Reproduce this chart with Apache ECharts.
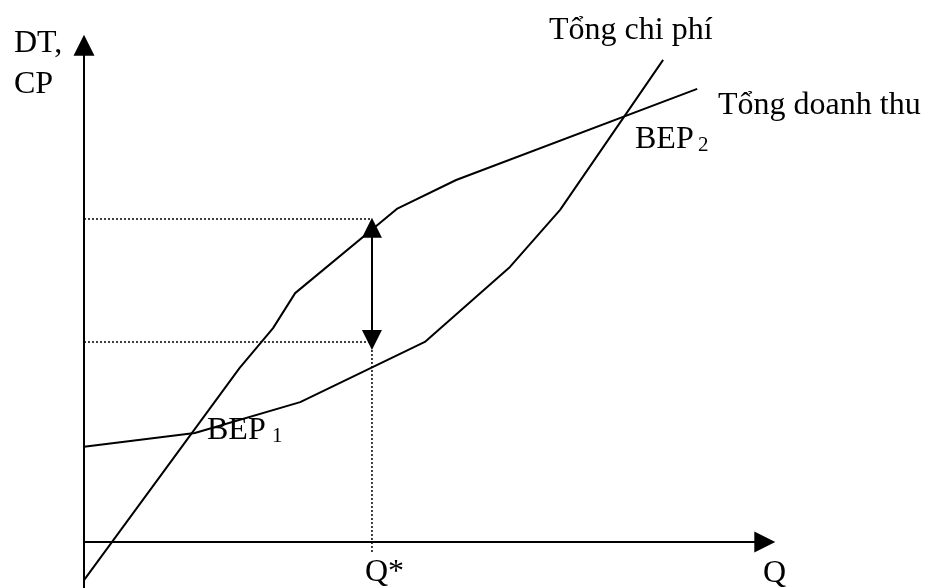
<!DOCTYPE html>
<html lang="vi">
<head>
  <meta charset="UTF-8">
  <title>Điểm hòa vốn</title>
  <script src="https://cdn.jsdelivr.net/npm/echarts@6/dist/echarts.min.js"></script>
  <style>
    html, body { margin: 0; padding: 0; background: #fff; }
    #container { width: 928px; height: 588px; }
  </style>
</head>
<body>
  <div id="container"></div>
  <script>
    // đường tổng doanh thu (Q, giá trị)
    const revenueQ = [0, 33.8, 41.1, 45.9, 68.0, 80.9, 133.3];
    const revenueV = [-8.3, 37.8, 46.5, 54.1, 72.4, 78.7, 98.5];
    // đường tổng chi phí
    const costQ = [0, 24.1, 47.0, 74.1, 92.6, 103.5, 125.9];
    const costV = [20.7, 23.7, 30.4, 43.5, 59.8, 72.2, 104.8];
    // Q* và các mức gióng
    const qStar = 62.6;
    const guideLevels = [70.2, 43.5];
    const gapArrow = [68.3, 43.9];
    const qMax = 148, vMin = -10, vMax = 108;

    const zip = (a, b) => a.map((v, i) => [v, b[i]]);
    const font = '"Liberation Serif", "Times New Roman", serif';
    const txt = (text, left, top, size) => ({
      type: 'text', left, top, silent: true,
      style: { text, fill: '#000', font: `${size || 32}px ${font}` }
    });

    const chart = echarts.init(document.getElementById('container'));
    const axisCommon = {
      type: 'value',
      axisLine: {
        show: true, onZero: true,
        symbol: ['none', 'triangle'], symbolSize: [21, 21],
        lineStyle: { color: '#000', width: 2 }
      },
      axisTick: { show: false },
      axisLabel: { show: false },
      splitLine: { show: false }
    };

    chart.setOption({
      animation: false,
      backgroundColor: '#fff',
      grid: { left: 84, top: 45.2, width: 680.8, height: 542.8 },
      xAxis: Object.assign({ min: 0, max: qMax }, axisCommon),
      yAxis: Object.assign({ min: vMin, max: vMax }, axisCommon),
      series: [
        {
          name: 'Tổng doanh thu', type: 'line', symbol: 'none',
          data: zip(revenueQ, revenueV),
          lineStyle: { color: '#000', width: 2 }
        },
        {
          name: 'Tổng chi phí', type: 'line', symbol: 'none',
          data: zip(costQ, costV),
          lineStyle: { color: '#000', width: 2 }
        },
        {
          type: 'line', symbol: 'none',
          data: [[0, guideLevels[0]], [qStar, guideLevels[0]]],
          lineStyle: { color: '#000', width: 1.5, type: [2, 2] }
        },
        {
          type: 'line', symbol: 'none',
          data: [[0, guideLevels[1]], [qStar, guideLevels[1]], [qStar, -2.2]],
          lineStyle: { color: '#000', width: 1.5, type: [2, 2] }
        },
        {
          type: 'lines', coordinateSystem: 'cartesian2d',
          symbol: ['triangle', 'triangle'], symbolSize: 20,
          lineStyle: { color: '#000', width: 2, opacity: 1 },
          itemStyle: { color: '#000' },
          data: [{ coords: [[qStar, gapArrow[0]], [qStar, gapArrow[1]]] }]
        }
      ],
      graphic: [
        txt('DT,', 14, 27.3),
        txt('CP', 14, 68.3),
        txt('Tổng chi phí', 549, 14.3),
        txt('Tổng doanh thu', 718, 89.3),
        txt('BEP', 635, 123.3),
        txt('2', 698, 135, 21),
        txt('BEP', 207, 414.3),
        txt('1', 272, 426, 21),
        txt('Q*', 365, 556.3),
        txt('Q', 763, 557.3)
      ]
    });
  </script>
</body>
</html>
